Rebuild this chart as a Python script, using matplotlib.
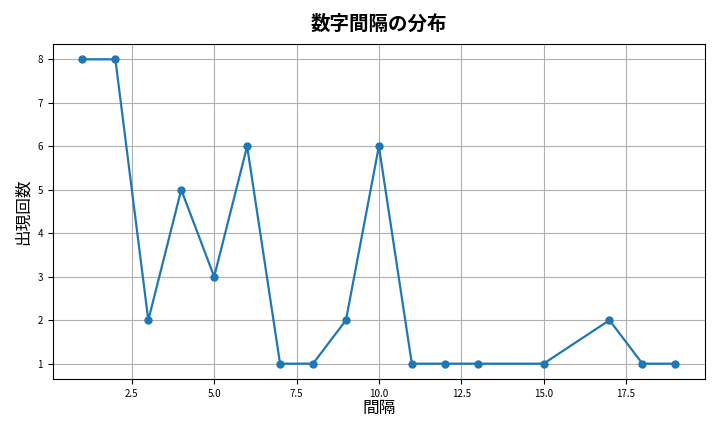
import matplotlib
matplotlib.use("Agg")
import matplotlib.pyplot as plt

plt.rcParams['font.family'] = ['Noto Sans CJK JP', 'DejaVu Sans']

# 間隔 and how often it appears
intervals = [1, 2, 3, 4, 5, 6, 7, 8, 9, 10, 11, 12, 13, 15, 17, 18, 19]
counts = [8, 8, 2, 5, 3, 6, 1, 1, 2, 6, 1, 1, 1, 1, 2, 1, 1]

fig, ax = plt.subplots(figsize=(7.2, 4.32), dpi=100)
ax.plot(intervals, counts, marker='o', markersize=5, color='#1f77b4', linewidth=1.6)
ax.set_title('数字間隔の分布', fontsize=14, fontweight='bold', pad=10)
ax.set_xlabel('間隔', fontsize=12, labelpad=1)
ax.set_ylabel('出現回数', fontsize=12, labelpad=4)
ax.tick_params(labelsize=7)
ax.grid(True)
fig.tight_layout()
fig.savefig('out.png')
